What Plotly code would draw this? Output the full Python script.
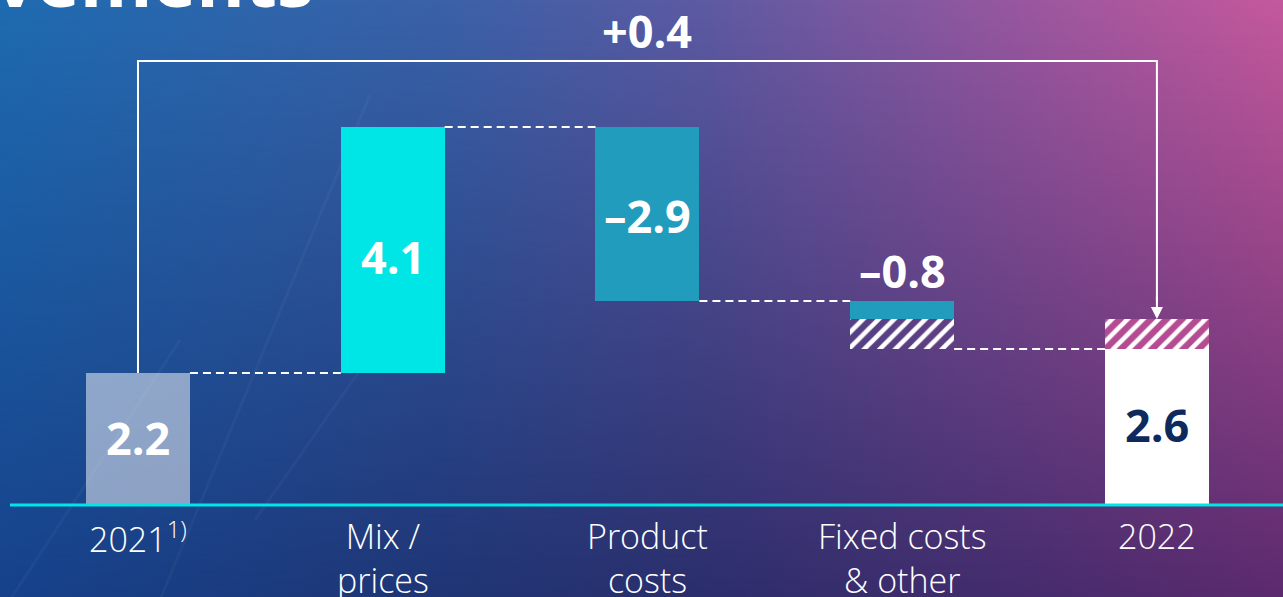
import base64
import plotly.graph_objects as go

# ---- data -------------------------------------------------------------
categories = ["2021<sup>1)</sup>", "Mix /<br>prices", "Product<br>costs",
              "Fixed costs<br>& other", "2022"]
start_value = 2.2                 # 2021
changes = [4.1, -2.9, -0.8]       # Mix / prices, Product costs, Fixed costs & other
end_value = 2.6                   # 2022
hatched_part = 0.5                # hatched share of fixed costs, shown again on top of 2022

# running levels of the waterfall
levels = [start_value]
for c in changes:
    levels.append(round(levels[-1] + c, 2))

W, H = 1283, 597
BAR_W = 0.408
X_RANGE = [-0.5417, 4.495]
Y_RANGE = [-1.533, 8.417]
BRACKET_Y = 7.4

CYAN = "#00e6e6"
TEAL = "#229cbc"
PINK = "#b54b93"
NAVY = "#0e2a5c"


def fmt(v):
    return ("–" if v < 0 else "") + f"{abs(v):.1f}"


# ---- background gradient (svg) ------------------------------------------
svg = f"""<svg xmlns='http://www.w3.org/2000/svg' width='{W}' height='{H}' viewBox='0 0 {W} {H}' preserveAspectRatio='none'>
<defs>
<linearGradient id='top' x1='0' y1='0' x2='1' y2='0'>
<stop offset='0' stop-color='#1e6bb0'/><stop offset='0.35' stop-color='#3b61a8'/>
<stop offset='0.55' stop-color='#5d5aa2'/><stop offset='0.8' stop-color='#9a579f'/>
<stop offset='1' stop-color='#c5589c'/></linearGradient>
<linearGradient id='bot' x1='0' y1='0' x2='1' y2='0'>
<stop offset='0' stop-color='#16428b'/><stop offset='0.35' stop-color='#1f3575'/>
<stop offset='0.55' stop-color='#2c2e6c'/><stop offset='0.8' stop-color='#452c6d'/>
<stop offset='1' stop-color='#5c2a6e'/></linearGradient>
<linearGradient id='fade' x1='0' y1='0' x2='0' y2='1'>
<stop offset='0' stop-color='white'/><stop offset='1' stop-color='black'/></linearGradient>
<mask id='m'><rect width='{W}' height='{H}' fill='url(#fade)'/></mask>
</defs>
<rect width='{W}' height='{H}' fill='url(#bot)'/>
<rect width='{W}' height='{H}' fill='url(#top)' mask='url(#m)'/>
<g stroke='white' stroke-opacity='0.035' stroke-width='3'>
<line x1='10' y1='600' x2='180' y2='340'/>
<line x1='160' y1='600' x2='370' y2='95'/>
<line x1='255' y1='520' x2='360' y2='370'/>
</g>
</svg>"""
bg_uri = "data:image/svg+xml;base64," + base64.b64encode(svg.encode()).decode()

fig = go.Figure()

bar_common = dict(width=BAR_W, showlegend=False, hoverinfo="skip",
                  marker_line_width=0)

# 2021 start bar
fig.add_bar(x=[0], y=[start_value], base=[0],
            marker_color="rgba(255,255,255,0.5)", **bar_common)
# Mix / prices
fig.add_bar(x=[1], y=[changes[0]], base=[levels[0]],
            marker_color=CYAN, **bar_common)
# Product costs
fig.add_bar(x=[2], y=[changes[1]], base=[levels[1]],
            marker_color=TEAL, **bar_common)
# Fixed costs & other: solid part then hatched part
solid_fixed = changes[2] + hatched_part
fig.add_bar(x=[3], y=[solid_fixed], base=[levels[2]],
            marker_color=TEAL, **bar_common)
fig.add_bar(x=[3], y=[-hatched_part], base=[levels[2] + solid_fixed],
            marker=dict(color="rgba(0,0,0,0)", line_width=0,
                        pattern=dict(shape="/", fgcolor="white", bgcolor="rgba(0,0,0,0)",
                                     size=11, solidity=0.42, fillmode="replace")),
            width=BAR_W, showlegend=False, hoverinfo="skip")
# 2022 end bar and hatched top
fig.add_bar(x=[4], y=[end_value], base=[0],
            marker_color="white", **bar_common)
fig.add_bar(x=[4], y=[hatched_part], base=[end_value],
            marker=dict(color=PINK, line_width=0,
                        pattern=dict(shape="/", fgcolor="white", bgcolor=PINK,
                                     size=11, solidity=0.42, fillmode="replace")),
            width=BAR_W, showlegend=False, hoverinfo="skip")

shapes = []
# dashed connectors between bars
conn_levels = [levels[0], levels[1], levels[2], end_value]
for i, lv in enumerate(conn_levels):
    shapes.append(dict(type="line", xref="x", yref="y",
                       x0=i + BAR_W / 2, x1=i + 1 - BAR_W / 2, y0=lv, y1=lv,
                       line=dict(color="white", width=2, dash="8px,5px")))
# baseline
shapes.append(dict(type="line", xref="paper", yref="y", x0=10 / W, x1=1, y0=0, y1=0,
                   line=dict(color=CYAN, width=3)))
# bracket from 2021 to 2022
top_2022 = end_value + hatched_part
shapes.append(dict(type="path", xref="x", yref="y",
                   path=f"M 0,{start_value} L 0,{BRACKET_Y} L 4,{BRACKET_Y} L 4,{top_2022 + 0.3}",
                   line=dict(color="white", width=2)))

annotations = []
# arrow head onto 2022
annotations.append(dict(x=4, y=top_2022, xref="x", yref="y", ax=4, ay=top_2022 + 0.4,
                        axref="x", ayref="y", text="", showarrow=True, arrowhead=2,
                        arrowsize=1.2, arrowwidth=2, arrowcolor="white", standoff=0))

num_font = dict(family="Open Sans, Noto Sans, sans-serif", size=45, color="white", weight=700)
annotations += [
    dict(x=0, y=start_value / 2, text=fmt(start_value), font=num_font, yshift=2),
    dict(x=1, y=levels[0] + changes[0] / 2 - 0.15, text=fmt(changes[0]), font=num_font, yshift=3),
    dict(x=2, y=levels[1] + changes[1] / 2 - 0.05, text=fmt(changes[1]), font=num_font, yshift=2),
    dict(x=3, y=levels[2], text=fmt(changes[2]), font=num_font, yshift=31),
    dict(x=4, y=end_value / 2, text=fmt(end_value), font={**num_font, "color": NAVY}, yshift=3),
    dict(x=2, y=BRACKET_Y, text=f"+{end_value - start_value:.1f}", font=num_font, yshift=31),
]
for a in annotations[1:]:
    a.update(xref="x", yref="y", showarrow=False)

# category labels
lab_font = dict(family="Open Sans, Lato, sans-serif", size=34, color="white", weight=300)
for i, c in enumerate(categories):
    annotations.append(dict(x=i, y=-0.167, xref="x", yref="y", text=c, showarrow=False,
                            yanchor="top", font=lab_font, yshift=4,
                            xshift=-10 if i == 1 else 0))

# title remnant at top edge
annotations.append(dict(x=-0.006, y=1 - 31 / H, xref="paper", yref="paper", text="vements",
                        showarrow=False, xanchor="left", yanchor="bottom",
                        font=dict(family="Open Sans, sans-serif", size=74, color="white", weight=700)))

fig.update_layout(
    width=W, height=H, autosize=False,
    margin=dict(l=0, r=0, t=0, b=0),
    paper_bgcolor="#2c3f85", plot_bgcolor="rgba(0,0,0,0)",
    barmode="overlay", bargap=0,
    xaxis=dict(range=X_RANGE, visible=False, fixedrange=True),
    yaxis=dict(range=Y_RANGE, visible=False, fixedrange=True),
    shapes=shapes, annotations=annotations,
    images=[dict(source=bg_uri, xref="paper", yref="paper", x=0, y=1, sizex=1, sizey=1,
                 xanchor="left", yanchor="top", sizing="stretch", layer="below")],
)

fig.write_html("out.html", config={"displayModeBar": False})
